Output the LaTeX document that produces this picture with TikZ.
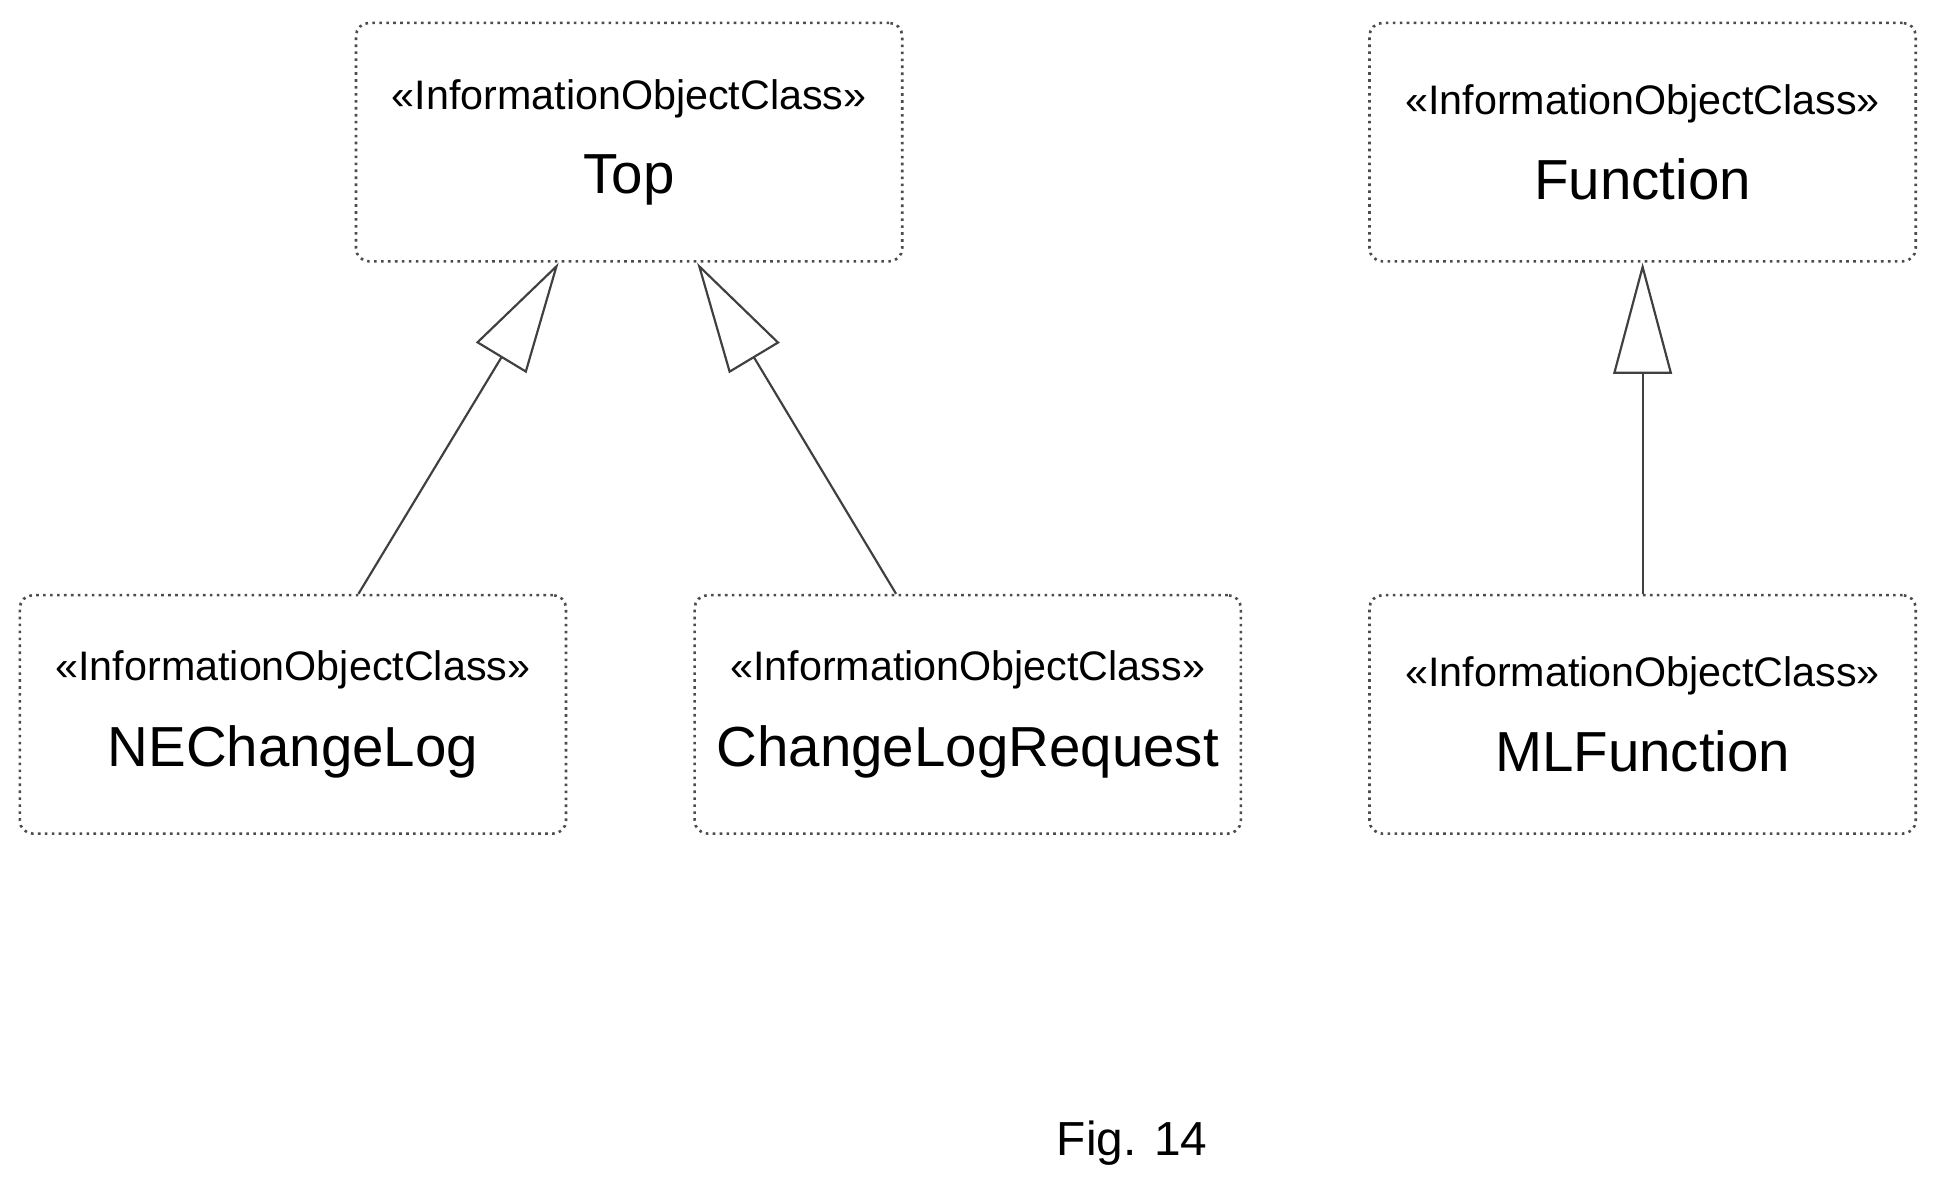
\documentclass[tikz,border=0pt]{standalone}
\usepackage{fontspec}
\setmainfont{Liberation Sans}
\usetikzlibrary{arrows.meta,calc}
\tikzset{
  ioc/.style={draw=black!70,dotted,line width=1.2pt,rounded corners=6pt,
    minimum width=8.84cm,minimum height=3.86cm,inner sep=0pt,align=center},
  gen/.style={draw=black!75,line width=1pt,
    -{Triangle[open,length=1.8cm,width=0.95cm]}}
}
\newcommand{\stereo}{{\fontsize{19}{23}\selectfont «InformationObjectClass»}}
\newcommand{\cname}[1]{\\[0.55cm]{\fontsize{26}{30}\selectfont #1}}
\begin{document}
\begin{tikzpicture}[x=0.02cm,y=-0.02cm]
  \useasboundingbox (0,0) rectangle (1568,964);
  % classes
  \node[ioc] (top) at (509,115) {\stereo\cname{Top}};
  \node[ioc] (func) at (1329,115) {\stereo\cname{Function}};
  \node[ioc] (nelog) at (237,578) {\stereo\cname{NEChangeLog}};
  \node[ioc] (req) at (783,578) {\stereo\cname{ChangeLogRequest}};
  \node[ioc] (mlf) at (1329,578) {\stereo\cname{MLFunction}};
  % generalizations
  \draw[gen] ($(nelog.north)+(53,0)$) -- ($(top.south)+(-57,0)$);
  \draw[gen] ($(req.north)+(-58,0)$) -- ($(top.south)+(55,0)$);
  \draw[gen] (mlf.north) -- (func.south);
  % caption
  \node[font=\fontsize{22}{26}\selectfont] (cap) at (916,925) {Fig. 14};
\end{tikzpicture}
\end{document}
